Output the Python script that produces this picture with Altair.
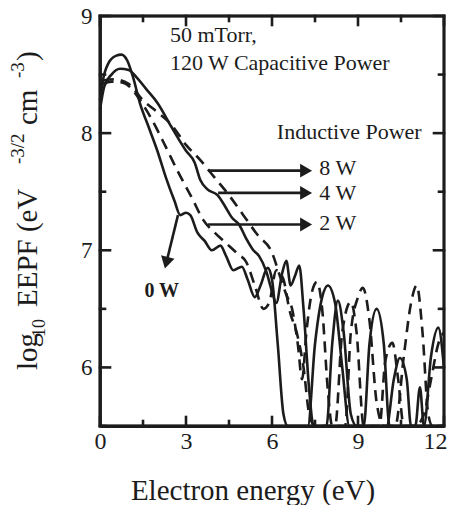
import altair as alt
import pandas as pd

# ---- data ----
x_0w = [0, 0.1, 0.3, 0.55, 0.75, 0.95, 1.15, 1.4, 1.7, 2.0, 2.3, 2.6, 2.8, 3.0, 3.15, 3.4, 3.65, 3.9,
        4.2, 4.4, 4.65, 4.95, 5.15, 5.4, 5.6, 5.85, 6.0, 6.2, 6.4, 6.55,
        7.25, 7.5, 7.75, 7.95, 8.2, 8.45, 8.7, 9.2, 9.4, 9.65, 9.9, 10.1, 11.3, 11.55, 11.8, 12.0]
y_0w = [8.28, 8.45, 8.6, 8.66, 8.67, 8.62, 8.48, 8.25, 8.05, 7.85, 7.62, 7.42, 7.3, 7.32, 7.3, 7.15, 7.08, 7.0,
        7.04, 6.95, 6.83, 6.86, 6.75, 6.6, 6.7, 6.85, 6.75, 6.2, 5.6, 5.3,
        5.3, 6.2, 6.6, 6.7, 6.55, 6.0, 5.3, 5.3, 6.2, 6.5, 6.2, 5.3, 5.3, 6.1, 6.34, 6.0]

x_4w = [0, 0.15, 0.4, 0.7, 1.0, 1.3, 1.6, 2.0, 2.5, 3.0, 3.3, 3.5, 3.75, 4.1, 4.35, 4.6, 4.85, 5.1, 5.35,
        5.55, 5.8, 6.0, 6.15, 6.35, 6.5, 6.65, 6.8, 6.95, 7.1, 7.3, 7.45,
        7.9, 8.1, 8.3, 8.5, 8.75, 8.95, 10.0, 10.25, 10.46, 10.7, 10.85, 11.0, 11.16, 11.3, 11.45, 12.0]
y_4w = [8.2, 8.4, 8.5, 8.55, 8.54, 8.47, 8.38, 8.26, 8.05, 7.85, 7.75, 7.6, 7.52, 7.47, 7.38, 7.28, 7.22, 7.1, 7.0,
        6.95, 6.82, 6.65, 6.55, 6.8, 6.91, 6.7, 6.78, 6.87, 6.5, 5.8, 5.3,
        5.3, 6.2, 6.57, 6.3, 5.6, 5.3, 5.3, 5.9, 6.08, 5.9, 5.3, 5.5, 5.83, 5.5, 5.3, 5.3]

x_2w = [0.1, 0.4, 0.8, 1.1, 1.4, 1.8, 2.3, 2.7, 3.2, 3.6, 4.0, 4.4, 4.8, 5.1, 5.4, 5.7, 5.9, 6.15, 6.4, 6.6,
        6.9, 7.1, 7.3, 7.5, 8.2, 8.45, 8.75, 8.95, 9.2, 9.75, 9.95, 10.2, 10.4, 10.6, 11.0, 11.3, 11.55,
        11.8, 12.0]
y_2w = [8.42, 8.44, 8.43, 8.38, 8.28, 8.12, 7.88, 7.68, 7.45, 7.26, 7.15, 7.06, 6.97, 6.9, 6.7, 6.5, 6.55, 6.83, 6.75, 6.5,
        6.26, 6.0, 5.6, 5.3, 5.3, 6.3, 6.56, 6.3, 5.3, 5.3, 6.05, 6.21, 5.9, 5.3, 5.3, 5.6, 5.9,
        6.2, 6.3]

x_8w = [0.1, 0.5, 1.0, 1.5, 2.0, 2.5, 3.0, 3.5, 4.0, 4.5, 5.0, 5.5, 6.0, 6.25, 6.5, 6.7, 6.9, 7.05, 7.2, 7.4,
        7.57, 7.75, 7.95, 8.1, 8.55, 8.75, 9.0, 9.17, 9.4, 9.65, 9.9, 10.3, 10.6, 10.85, 11.05, 11.25, 11.45,
        11.6, 12.0]
y_8w = [8.45, 8.46, 8.42, 8.28, 8.18, 8.07, 7.9, 7.77, 7.62, 7.47, 7.3, 7.13, 6.98, 6.8, 6.62, 6.5, 6.2, 5.9, 6.3, 6.65,
        6.73, 6.5, 5.8, 5.3, 5.3, 6.3, 6.6, 6.68, 6.4, 5.7, 5.3, 5.3, 6.1, 6.55, 6.7, 6.3, 5.6,
        5.3, 5.3]

x_ticks_major = [0, 3, 6, 9, 12]
x_ticks_minor = [1.5, 4.5, 7.5, 10.5]
y_ticks_major = [6, 7, 8, 9]
y_ticks_minor = [5.5, 6.5, 7.5, 8.5]

INK = "#1c1c1c"
FONT = "Liberation Serif"
W, H = 344, 410
X0, X1, Y0, Y1 = 0.0, 12.0, 5.5, 9.0
PX_X = W / (X1 - X0)   # pixels per eV
PX_Y = H / (Y1 - Y0)   # pixels per decade


def series(name, xs, ys):
    return pd.DataFrame({"series": name, "energy": xs, "eepf": ys, "order": range(len(xs))})


solid_df = pd.concat([series("0 W", x_0w, y_0w), series("4 W", x_4w, y_4w)])
dashed_df = pd.concat([series("2 W", x_2w, y_2w), series("8 W", x_8w, y_8w)])

# frame outline and inward ticks as polyline pieces
rows = []
rows += [("frame", X0, Y0, 0), ("frame", X1, Y0, 1), ("frame", X1, Y1, 2), ("frame", X0, Y1, 3),
         ("frame", X0, Y0, 4)]
for vals, ln in [(x_ticks_major, 9), (x_ticks_minor, 5)]:
    d = ln / PX_Y
    for v in vals:
        rows += [(f"b{v}", v, Y0, 0), (f"b{v}", v, Y0 + d, 1)]
        rows += [(f"t{v}", v, Y1, 0), (f"t{v}", v, Y1 - d, 1)]
for vals, ln in [(y_ticks_major, 10), (y_ticks_minor, 5)]:
    d = ln / PX_X
    for v in vals:
        rows += [(f"l{v}", X0, v, 0), (f"l{v}", X0 + d, v, 1)]
        rows += [(f"r{v}", X1, v, 0), (f"r{v}", X1 - d, v, 1)]
box_df = pd.DataFrame(rows, columns=["piece", "energy", "eepf", "order"])

# clamped scales keep the curves inside the frame (no mark clipping)
xscale = alt.Scale(domain=[X0, X1], nice=False, zero=False, clamp=True)
yscale = alt.Scale(domain=[Y0, Y1], nice=False, zero=False, clamp=True)

xaxis = alt.Axis(values=x_ticks_major, format="d", title="", ticks=False, grid=False,
                 domain=True, domainColor=INK, domainWidth=2.8,
                 labelFont=FONT, labelFontSize=24, labelColor=INK, labelPadding=3,
                 labelFlush=False, labelBaseline="top",
                 labelAlign=alt.ExprRef(expr="datum.value == 12 ? 'right' : 'center'"),
                 labelOffset=alt.ExprRef(expr="datum.value == 12 ? 3 : 0"))
yaxis = alt.Axis(values=y_ticks_major, format="d", title="", ticks=False, grid=False,
                 domain=True, domainColor=INK, domainWidth=2.8,
                 labelFont=FONT, labelFontSize=23, labelColor=INK, labelPadding=8,
                 labelFlush=False)

solid = alt.Chart(solid_df).mark_line(color=INK, strokeWidth=2.6, interpolate="monotone").encode(
    x=alt.X("energy:Q", scale=xscale, axis=xaxis),
    y=alt.Y("eepf:Q", scale=yscale, axis=yaxis),
    detail="series:N", order="order:Q")
dashed = alt.Chart(dashed_df).mark_line(color=INK, strokeWidth=2.6, interpolate="monotone",
                                        strokeDash=[11, 7]).encode(
    x="energy:Q", y="eepf:Q", detail="series:N", order="order:Q")

box = alt.Chart(box_df).mark_line(color=INK, strokeWidth=2.6, strokeCap="square").encode(
    x="energy:Q", y="eepf:Q", detail="piece:N", order="order:Q")


def seg(x1, y1, x2, y2, width=2.6):
    return alt.Chart(pd.DataFrame({"a": [0]})).mark_rule(color=INK, strokeWidth=width).encode(
        x=alt.datum(x1), y=alt.datum(y1), x2=alt.datum(x2), y2=alt.datum(y2))


def label(text, x, y, size=22, weight="normal", align="left"):
    return alt.Chart(pd.DataFrame({"t": [text]})).mark_text(
        font=FONT, fontSize=size, fontWeight=weight, color=INK, align=align, baseline="middle").encode(
        text="t:N", x=alt.datum(x), y=alt.datum(y))


notes = [
    label("50 mTorr,", 2.44, 8.84),
    label("120 W Capacitive Power", 2.44, 8.6),
    label("Inductive Power", 6.17, 8.01),
    label("8 W", 7.65, 7.7),
    label("4 W", 7.65, 7.49),
    label("2 W", 7.65, 7.23),
    label("0 W", 1.55, 6.65, size=20, weight="bold"),
]


def arrow_head(x, y, angle):
    return alt.Chart(pd.DataFrame({"a": [0]})).mark_point(
        shape="triangle", filled=True, color=INK, opacity=1, size=190, angle=angle).encode(
        x=alt.datum(x), y=alt.datum(y))


arrows = [
    seg(3.77, 7.68, 7.1, 7.68), arrow_head(7.12, 7.68, 90),
    seg(4.12, 7.49, 7.1, 7.49), arrow_head(7.12, 7.49, 90),
    seg(3.77, 7.22, 7.1, 7.22), arrow_head(7.12, 7.22, 90),
    seg(2.72, 7.30, 2.35, 6.93), arrow_head(2.33, 6.91, 194),
]


def ptext(text, x, y, size, angle=0, align="left", baseline="alphabetic"):
    return alt.Chart(pd.DataFrame({"t": [text]})).mark_text(
        font=FONT, fontSize=size, color=INK, align=align, baseline=baseline, angle=angle).encode(
        text="t:N", x=alt.value(x), y=alt.value(y))


titles = [
    ptext("Electron energy (eV)", 153, 484, 29, align="center"),
    ptext("log", -63, 354, 29, angle=270),
    ptext("10", -55, 321, 18, angle=270),
    ptext("EEPF (eV", -63, 291, 29, angle=270),
    ptext("-3/2", -76, 148, 19, angle=270),
    ptext("cm", -63, 109, 29, angle=270),
    ptext("-3", -76, 62, 19, angle=270),
    ptext(")", -63, 45, 29, angle=270),
]

chart = alt.layer(solid, dashed, box, *arrows, *notes, *titles).properties(
    width=W, height=H,
    background="white",
    autosize=alt.AutoSizeParams(type="none"),
    padding={"left": 92, "top": 8, "right": 3, "bottom": 79},
).configure_view(stroke=INK, strokeWidth=2.8)

chart.save("out.html", embed_options={"renderer": "svg", "actions": False})
